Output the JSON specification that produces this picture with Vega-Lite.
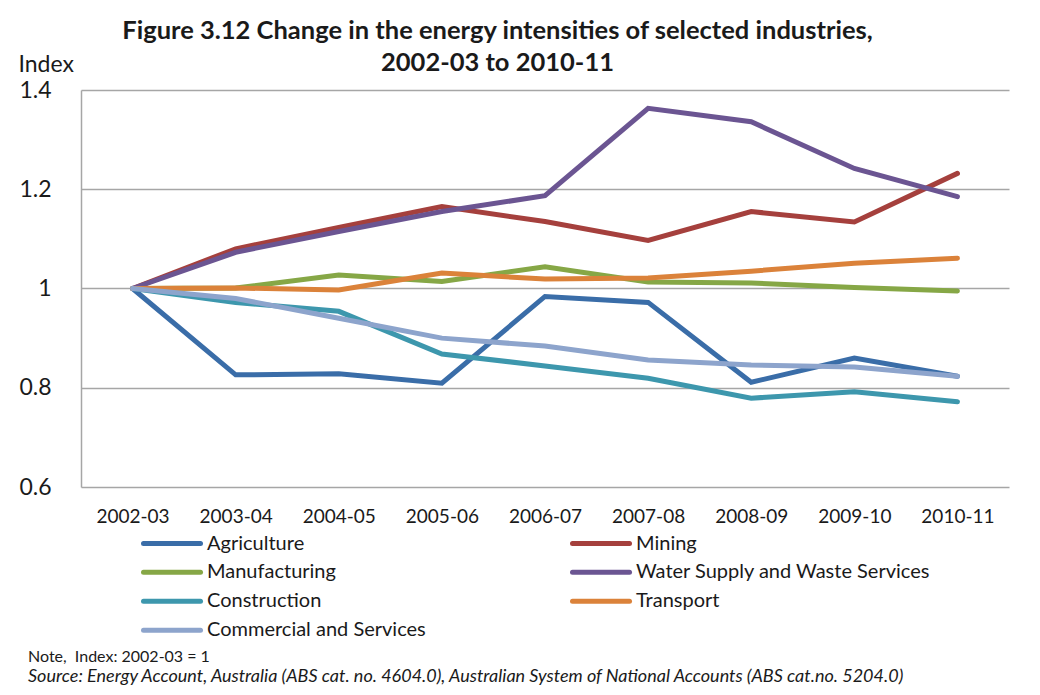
{
  "$schema": "https://vega.github.io/schema/vega-lite/v6.json",
  "background": "white",
  "padding": {"left": 18, "top": 18, "right": 10, "bottom": 5},
  "title": {
    "text": ["Figure 3.12 Change in the energy intensities of selected industries,", "2002-03 to 2010-11"],
    "font": "Lato", "fontSize": 25.5, "fontWeight": "bold", "color": "#1a1a1a",
    "lineHeight": 32, "anchor": "middle", "dx": -16, "offset": -23
  },
  "spacing": 4,
  "resolve": {"scale": {"color": "independent"}, "legend": {"color": "independent"}},
  "vconcat": [
    {
      "width": 928,
      "height": 397,
      "data": {"values": [
        {"year": "2002-03", "industry": "Agriculture", "index": 1},
        {"year": "2003-04", "industry": "Agriculture", "index": 0.826},
        {"year": "2004-05", "industry": "Agriculture", "index": 0.828},
        {"year": "2005-06", "industry": "Agriculture", "index": 0.809},
        {"year": "2006-07", "industry": "Agriculture", "index": 0.984},
        {"year": "2007-08", "industry": "Agriculture", "index": 0.972},
        {"year": "2008-09", "industry": "Agriculture", "index": 0.811},
        {"year": "2009-10", "industry": "Agriculture", "index": 0.86},
        {"year": "2010-11", "industry": "Agriculture", "index": 0.823},
        {"year": "2002-03", "industry": "Mining", "index": 1},
        {"year": "2003-04", "industry": "Mining", "index": 1.08},
        {"year": "2004-05", "industry": "Mining", "index": 1.123},
        {"year": "2005-06", "industry": "Mining", "index": 1.165},
        {"year": "2006-07", "industry": "Mining", "index": 1.135},
        {"year": "2007-08", "industry": "Mining", "index": 1.097},
        {"year": "2008-09", "industry": "Mining", "index": 1.155},
        {"year": "2009-10", "industry": "Mining", "index": 1.134},
        {"year": "2010-11", "industry": "Mining", "index": 1.232},
        {"year": "2002-03", "industry": "Manufacturing", "index": 1},
        {"year": "2003-04", "industry": "Manufacturing", "index": 1.001},
        {"year": "2004-05", "industry": "Manufacturing", "index": 1.027},
        {"year": "2005-06", "industry": "Manufacturing", "index": 1.014},
        {"year": "2006-07", "industry": "Manufacturing", "index": 1.044},
        {"year": "2007-08", "industry": "Manufacturing", "index": 1.013},
        {"year": "2008-09", "industry": "Manufacturing", "index": 1.011},
        {"year": "2009-10", "industry": "Manufacturing", "index": 1.002},
        {"year": "2010-11", "industry": "Manufacturing", "index": 0.995},
        {"year": "2002-03", "industry": "Water Supply and Waste Services", "index": 1},
        {"year": "2003-04", "industry": "Water Supply and Waste Services", "index": 1.073},
        {"year": "2004-05", "industry": "Water Supply and Waste Services", "index": 1.115},
        {"year": "2005-06", "industry": "Water Supply and Waste Services", "index": 1.155},
        {"year": "2006-07", "industry": "Water Supply and Waste Services", "index": 1.187},
        {"year": "2007-08", "industry": "Water Supply and Waste Services", "index": 1.363},
        {"year": "2008-09", "industry": "Water Supply and Waste Services", "index": 1.336},
        {"year": "2009-10", "industry": "Water Supply and Waste Services", "index": 1.242},
        {"year": "2010-11", "industry": "Water Supply and Waste Services", "index": 1.185},
        {"year": "2002-03", "industry": "Construction", "index": 1},
        {"year": "2003-04", "industry": "Construction", "index": 0.972},
        {"year": "2004-05", "industry": "Construction", "index": 0.954},
        {"year": "2005-06", "industry": "Construction", "index": 0.868},
        {"year": "2006-07", "industry": "Construction", "index": 0.844},
        {"year": "2007-08", "industry": "Construction", "index": 0.819},
        {"year": "2008-09", "industry": "Construction", "index": 0.779},
        {"year": "2009-10", "industry": "Construction", "index": 0.792},
        {"year": "2010-11", "industry": "Construction", "index": 0.772},
        {"year": "2002-03", "industry": "Transport", "index": 1},
        {"year": "2003-04", "industry": "Transport", "index": 1.001},
        {"year": "2004-05", "industry": "Transport", "index": 0.997},
        {"year": "2005-06", "industry": "Transport", "index": 1.031},
        {"year": "2006-07", "industry": "Transport", "index": 1.019},
        {"year": "2007-08", "industry": "Transport", "index": 1.021},
        {"year": "2008-09", "industry": "Transport", "index": 1.035},
        {"year": "2009-10", "industry": "Transport", "index": 1.051},
        {"year": "2010-11", "industry": "Transport", "index": 1.061},
        {"year": "2002-03", "industry": "Commercial and Services", "index": 1},
        {"year": "2003-04", "industry": "Commercial and Services", "index": 0.98},
        {"year": "2004-05", "industry": "Commercial and Services", "index": 0.94},
        {"year": "2005-06", "industry": "Commercial and Services", "index": 0.9},
        {"year": "2006-07", "industry": "Commercial and Services", "index": 0.884},
        {"year": "2007-08", "industry": "Commercial and Services", "index": 0.856},
        {"year": "2008-09", "industry": "Commercial and Services", "index": 0.846},
        {"year": "2009-10", "industry": "Commercial and Services", "index": 0.842},
        {"year": "2010-11", "industry": "Commercial and Services", "index": 0.823}
      ]},
      "mark": {"type": "line", "strokeWidth": 5, "strokeCap": "round", "strokeJoin": "miter"},
      "encoding": {
        "x": {
          "field": "year", "type": "ordinal",
          "scale": {"type": "point", "padding": 0.5},
          "axis": {"title": null, "labelAngle": 0, "domain": false, "ticks": false, "grid": false,
                   "labelFont": "Lato", "labelFontSize": 19, "labelColor": "#1a1a1a", "labelPadding": 20}
        },
        "y": {
          "field": "index", "type": "quantitative",
          "scale": {"domain": [0.6, 1.4], "nice": false, "zero": false},
          "axis": {"title": "Index", "titleAngle": 0, "titleX": -63, "titleY": -26, "titleAlign": "left",
                   "titleBaseline": "middle", "titleFont": "Lato", "titleFontSize": 23, "titleFontWeight": "normal",
                   "titleColor": "#1a1a1a",
                   "values": [0.6, 0.8, 1, 1.2, 1.4], "format": "~g",
                   "labelFont": "Lato", "labelFontSize": 23, "labelColor": "#1a1a1a", "labelPadding": 30,
                   "ticks": false, "domain": true, "domainColor": "#A6A6A6", "domainWidth": 1.5,
                   "grid": true, "gridColor": "#A6A6A6", "gridWidth": 1.5}
        },
        "color": {
          "field": "industry", "type": "nominal",
          "scale": {
            "domain": ["Agriculture", "Manufacturing", "Construction", "Commercial and Services", "Mining", "Water Supply and Waste Services", "Transport"],
            "range": ["#3A6DA8", "#86A746", "#3D97AD", "#8DA4CC", "#A5403D", "#6B5592", "#DB823A"]
          },
          "legend": {
            "orient": "none", "legendX": 60, "legendY": 439, "columns": 2, "title": null,
            "symbolType": "stroke", "symbolSize": 3249, "symbolStrokeWidth": 5, "clipHeight": 28.3,
            "rowPadding": 0, "columnPadding": 144, "padding": 0,
            "labelFont": "Lato", "labelFontSize": 20, "labelColor": "#1a1a1a", "labelOffset": 4, "labelLimit": 500,
            "encode": {"symbols": {"update": {"strokeCap": {"value": "round"}}}}
          }
        }
      }
    },
    {
      "width": 900,
      "height": 1,
      "data": {"values": [{}]},
      "mark": {"type": "text", "text": ""},
      "title": {
        "text": "Note,\u00a0 Index: 2002-03 = 1",
        "subtitle": "Source: Energy Account, Australia (ABS cat. no. 4604.0), Australian System of National Accounts (ABS cat.no. 5204.0)",
        "anchor": "start", "frame": "group", "dx": -53, "offset": 0,
        "font": "Lato", "fontSize": 16, "fontWeight": "normal", "color": "#1a1a1a",
        "subtitleFont": "Lato", "subtitleFontSize": 18, "subtitleFontStyle": "italic", "subtitleColor": "#1a1a1a",
        "subtitlePadding": 2.5
      }
    }
  ],
  "config": {"view": {"stroke": null}, "font": "Lato"}
}
